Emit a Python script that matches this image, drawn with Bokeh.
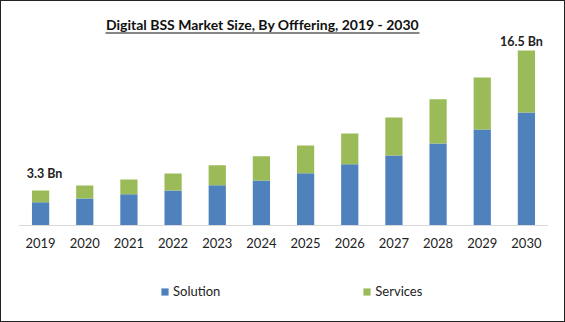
from bokeh.plotting import figure
from bokeh.models import Legend, LegendItem, Range1d, BoxAnnotation, ColumnDataSource, Label
from bokeh.core.properties import value
from bokeh.embed import file_html
from bokeh.resources import INLINE

years = ["2019", "2020", "2021", "2022", "2023", "2024", "2025", "2026", "2027", "2028", "2029", "2030"]
solution = [2.2, 2.55, 2.95, 3.3, 3.8, 4.24, 4.93, 5.78, 6.6, 7.74, 9.06, 10.66]
services = [1.1, 1.22, 1.39, 1.6, 1.89, 2.3, 2.62, 2.9, 3.59, 4.16, 4.9, 5.84]
label_years = ["2019", "2030"]
label_texts = ["3.3 Bn", "16.5 Bn"]
series_names = ["Solution", "Services"]
colors = ["#4F81BD", "#9BBB59"]
title_text = "Digital BSS Market Size, By Offfering, 2019 - 2030"

FONT = "Lato"
PX = 175 / 16.5  # pixels per unit

src = ColumnDataSource(dict(year=years, Solution=solution, Services=services))

p = figure(x_range=years, y_range=Range1d(-(310 - 224) / PX, (224 - 5) / PX), width=565, height=322,
           output_backend="svg", toolbar_location=None,
           min_border_left=17, min_border_right=18, min_border_top=5, min_border_bottom=12)

r = p.vbar_stack(series_names, x="year", width=0.39, source=src, color=colors, line_color=None)

tot = {y: a + b for y, a, b in zip(years, solution, services)}
offs = [(4, -10), (-5, -2)]
for yr, t, (dx, dy) in zip(label_years, label_texts, offs):
    p.text(x=[yr], y=[tot[yr]], text=[t], text_align="center", text_baseline="bottom",
           x_offset=dx, y_offset=dy, text_font=value(FONT), text_font_style="bold",
           text_font_size="12.5px", text_color="#222222")

title = Label(x=244, y=310 - 23, x_units="screen", y_units="screen", text=title_text,
              text_align="center", text_baseline="middle", text_font=FONT,
              text_font_style="bold", text_font_size="14px", text_color="#111111")
p.add_layout(title)

ul = BoxAnnotation(left=87, right=401, top=310 - 31, bottom=310 - 32, left_units="screen", right_units="screen",
                   top_units="screen", bottom_units="screen", fill_color="#111111", fill_alpha=1,
                   line_color=None)
p.add_layout(ul)

p.xaxis.fixed_location = 0
p.xaxis.axis_line_color = "#d9d9d9"
p.xaxis.major_tick_line_color = None
p.xaxis.minor_tick_line_color = None
p.xaxis.major_label_text_font = FONT
p.xaxis.major_label_text_font_size = "13px"
p.xaxis.major_label_text_color = "#222222"
p.xaxis.major_label_standoff = 6
p.yaxis.visible = False
p.xgrid.visible = False
p.ygrid.visible = False
p.outline_line_color = None
p.x_range.range_padding = 0

legend = Legend(items=[LegendItem(label=n, renderers=[rr]) for n, rr in zip(series_names, r)],
                orientation="horizontal", location=(142, 12), padding=0, margin=0,
                spacing=142, glyph_width=9, glyph_height=9, label_height=16,
                label_text_font=FONT, label_text_font_size="13px", label_text_color="#222222",
                border_line_color=None, background_fill_alpha=0, label_standoff=4)
p.add_layout(legend)

p.styles = {"border": "1px solid #222222", "box-sizing": "border-box"}

open("out.html", "w").write(file_html(p, INLINE))
